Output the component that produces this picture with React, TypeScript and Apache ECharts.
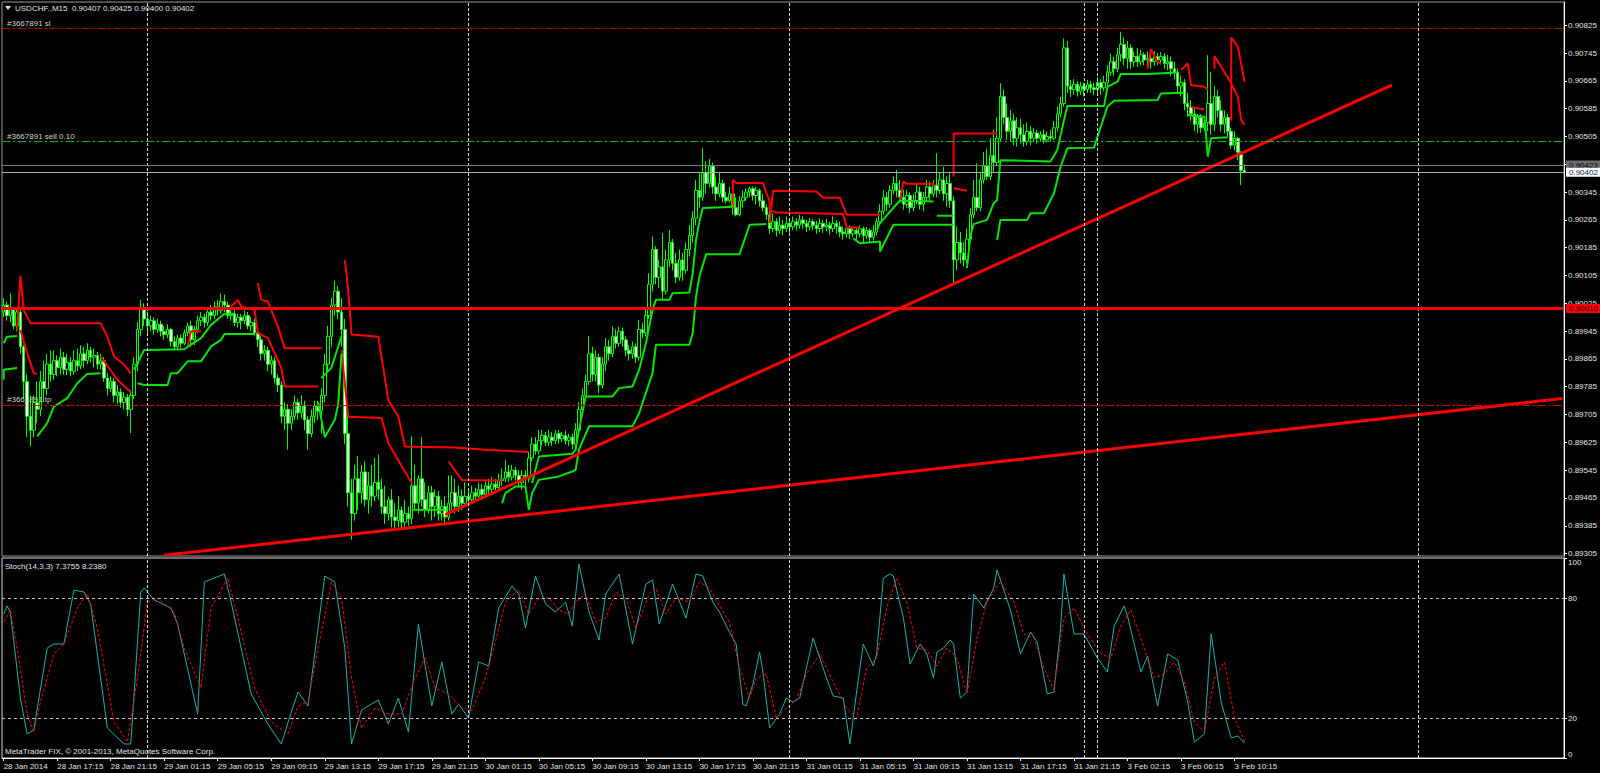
import React, { useEffect, useRef } from "react";
import * as echarts from "echarts";

const FONT = '"Liberation Sans", Arial, sans-serif';
const BAR_SLOTS = 467;
const LABEL_STEP = 16;
const PRICE_MIN = 0.89298;
const PRICE_MAX = 0.90892;

const headerText = "USDCHF.,M15  0.90407 0.90425 0.90400 0.90402";
const stochHeader = "Stoch(14,3,3) 7.3755 8.2380";
const copyrightText = "MetaTrader FIX, \u00a9 2001-2013, MetaQuotes Software Corp.";

const timeLabels = [
  "28 Jan 2014", "28 Jan 17:15", "28 Jan 21:15", "29 Jan 01:15", "29 Jan 05:15", "29 Jan 09:15",
  "29 Jan 13:15", "29 Jan 17:15", "29 Jan 21:15", "30 Jan 01:15", "30 Jan 05:15", "30 Jan 09:15",
  "30 Jan 13:15", "30 Jan 17:15", "30 Jan 21:15", "31 Jan 01:15", "31 Jan 05:15", "31 Jan 09:15",
  "31 Jan 13:15", "31 Jan 17:15", "31 Jan 21:15", "3 Feb 02:15", "3 Feb 06:15", "3 Feb 10:15",
];

const priceTicks = [
  0.89305, 0.89385, 0.89465, 0.89545, 0.89625, 0.89705, 0.89785, 0.89865, 0.89945, 0.90025,
  0.90105, 0.90185, 0.90265, 0.90345, 0.90425, 0.90505, 0.90585, 0.90665, 0.90745, 0.90825,
];
const stochTicks = [0, 20, 80, 100];
const stochLevels = [20, 80];
const daySeparators = [43, 139, 235, 323, 327, 423];

// order levels
const slPrice = 0.90817;
const sellPrice = 0.9049;
const tpPrice = 0.89733;
const askPrice = 0.90423;
const bidPrice = 0.90402;
const supportPrice = 0.9001;

// candles: [open, close, low, high] in points above 0.89000
const candles = [
  [1000,1020,985,1040],[1020,990,975,1030],[990,1010,970,1054],[1010,960,950,1015],[960,1000,945,1010],
  [1000,900,880,1005],[900,800,750,905],[800,700,640,820],[700,660,613,760],[660,740,640,760],
  [740,720,680,800],[720,800,700,830],[800,780,740,860],[780,850,760,880],[850,820,800,890],
  [820,860,805,890],[860,840,815,875],[840,870,820,895],[870,835,820,885],[835,855,818,880],
  [855,830,815,870],[830,860,820,890],[860,845,830,895],[845,880,835,905],[880,860,840,900],
  [860,890,850,910],[890,870,855,900],[870,875,840,895],[875,850,835,885],[850,860,835,880],
  [860,810,800,870],[810,780,760,825],[780,800,770,815],[800,760,740,810],[760,770,735,790],
  [770,740,725,780],[740,755,720,770],[755,720,700,765],[720,760,652,775],[760,850,750,870],
  [850,950,830,970],[950,1010,930,1035],[1010,980,960,1025],[980,960,940,1000],[960,975,945,990],
  [975,950,935,985],[950,965,940,980],[965,945,930,975],[945,935,920,960],[935,950,925,965],
  [950,915,900,955],[915,900,891,930],[900,925,895,935],[925,910,895,935],[910,940,905,950],
  [940,960,930,970],[960,920,900,975],[920,950,905,960],[950,975,940,990],[975,985,960,1000],
  [985,970,955,995],[970,1000,960,1010],[1000,990,975,1020],[990,1015,980,1030],[1015,1005,990,1035],
  [1005,1030,995,1054],[1030,1020,1000,1050],[1020,990,980,1030],[990,995,975,1010],[995,970,960,1005],
  [970,985,955,995],[985,975,950,995],[975,990,965,1005],[990,960,950,1000],[960,970,945,985],
  [970,940,930,980],[940,920,900,950],[920,880,860,930],[880,890,860,905],[890,850,830,900],
  [850,860,820,875],[860,810,795,870],[810,790,770,820],[790,700,680,800],[700,720,661,740],
  [720,680,604,735],[680,700,660,720],[700,740,690,760],[740,710,690,750],[710,730,695,760],
  [730,690,660,745],[690,650,604,700],[650,700,640,720],[700,730,680,745],[730,715,690,745],
  [715,760,650,780],[760,850,740,880],[850,930,830,960],[930,1020,900,1040],[1020,1060,990,1090],
  [1060,1000,980,1075],[1000,950,900,1040],[950,650,620,980],[650,480,440,700],[480,420,345,520],
  [420,520,400,560],[520,480,430,585],[480,540,450,560],[540,460,440,570],[460,500,420,540],
  [500,470,440,560],[470,510,455,580],[510,490,460,590],[490,440,420,520],[440,420,390,500],
  [420,460,400,470],[460,410,380,490],[410,400,375,450],[400,430,380,470],[430,395,374,440],
  [395,420,380,460],[420,405,385,440],[405,500,390,642],[500,450,430,560],[450,520,420,530],
  [520,460,440,640],[460,430,410,510],[430,480,420,500],[480,440,400,500],[440,470,410,490],
  [470,420,400,485],[420,440,400,460],[440,410,385,470],[410,450,400,530],[450,480,430,530],
  [480,440,420,520],[440,470,425,500],[470,450,430,490],[450,470,440,510],[470,460,441,490],
  [460,480,450,500],[480,470,455,495],[470,490,460,510],[490,475,460,505],[475,500,465,515],
  [500,490,475,520],[490,505,480,525],[505,495,480,520],[495,515,485,535],[515,520,500,550],
  [520,540,510,575],[540,525,510,560],[525,545,515,560],[545,530,515,555],[530,510,495,545],
  [510,530,489,545],[530,520,500,545],[520,580,510,600],[580,620,570,640],[620,600,590,640],
  [600,630,590,661],[630,645,615,660],[645,625,613,655],[625,640,615,661],[640,630,615,655],
  [630,650,620,660],[650,635,620,661],[635,645,625,655],[645,630,618,660],[630,640,615,650],
  [640,620,605,650],[620,660,610,680],[660,720,650,740],[720,760,700,780],[760,800,750,820],
  [800,880,790,930],[880,820,800,900],[820,870,800,890],[870,790,767,880],[790,850,780,870],
  [850,900,830,925],[900,880,860,920],[880,930,870,958],[930,910,895,950],[910,945,900,958],
  [945,920,900,955],[920,890,872,930],[890,880,860,905],[880,900,865,915],[900,870,853,910],
  [870,950,860,977],[950,940,925,970],[940,990,930,1010],[990,1080,980,1112],[1080,1180,1060,1217],
  [1180,1100,1080,1190],[1100,1130,1070,1150],[1130,1060,1035,1227],[1060,1150,1050,1180],[1150,1200,1130,1236],
  [1200,1140,1120,1210],[1140,1100,1083,1170],[1100,1150,1090,1180],[1150,1120,1090,1170],[1120,1180,1110,1200],
  [1180,1220,1160,1250],[1220,1270,1200,1290],[1270,1350,1250,1380],[1350,1330,1300,1400],[1330,1400,1320,1471],
  [1400,1370,1340,1433],[1370,1420,1360,1440],[1420,1360,1340,1430],[1360,1340,1320,1390],[1340,1370,1330,1400],
  [1370,1330,1315,1380],[1330,1320,1313,1345],[1320,1340,1315,1360],[1340,1300,1280,1350],[1300,1280,1275,1330],
  [1280,1320,1275,1335],[1320,1330,1300,1350],[1330,1345,1320,1356],[1345,1355,1330,1361],[1355,1335,1320,1361],
  [1335,1350,1310,1360],[1350,1320,1303,1355],[1320,1300,1290,1340],[1300,1280,1265,1310],[1280,1240,1225,1290],
  [1240,1260,1230,1284],[1260,1235,1217,1270],[1235,1250,1225,1275],[1250,1240,1220,1265],[1240,1255,1230,1275],
  [1255,1245,1225,1270],[1245,1260,1235,1275],[1260,1250,1235,1270],[1250,1265,1240,1280],[1265,1255,1240,1275],
  [1255,1245,1230,1265],[1245,1260,1235,1270],[1260,1250,1235,1268],[1250,1240,1225,1262],[1240,1255,1230,1270],
  [1255,1245,1228,1265],[1245,1250,1232,1268],[1250,1240,1222,1260],[1240,1255,1230,1275],[1255,1245,1225,1265],
  [1245,1230,1215,1260],[1230,1225,1208,1245],[1225,1240,1215,1255],[1240,1225,1210,1250],[1225,1235,1215,1246],
  [1235,1225,1208,1245],[1225,1240,1215,1250],[1240,1220,1198,1246],[1220,1235,1210,1245],[1235,1215,1200,1240],
  [1215,1230,1205,1250],[1230,1260,1220,1270],[1260,1290,1250,1310],[1290,1330,1280,1351],[1330,1310,1290,1345],
  [1310,1350,1300,1365],[1350,1370,1340,1390],[1370,1350,1330,1409],[1350,1330,1320,1380],[1330,1310,1294,1351],
  [1310,1335,1300,1350],[1335,1300,1284,1345],[1300,1320,1290,1340],[1320,1345,1310,1370],[1345,1310,1295,1360],
  [1310,1330,1290,1345],[1330,1360,1320,1380],[1360,1340,1320,1375],[1340,1365,1330,1380],[1365,1350,1330,1457],
  [1350,1380,1340,1400],[1380,1340,1320,1418],[1340,1370,1303,1390],[1370,1320,1300,1400],[1320,1150,1083,1332],
  [1150,1200,1120,1246],[1200,1170,1140,1230],[1170,1150,1131,1200],[1150,1210,1140,1240],[1210,1280,1200,1300],
  [1280,1330,1270,1380],[1330,1300,1290,1428],[1300,1380,1290,1400],[1380,1420,1370,1460],[1420,1390,1380,1470],
  [1390,1450,1380,1500],[1450,1430,1400,1524],[1430,1500,1420,1560],[1500,1620,1490,1658],[1620,1560,1540,1640],
  [1560,1520,1495,1600],[1520,1550,1490,1581],[1550,1500,1480,1570],[1500,1530,1476,1560],[1530,1510,1485,1555],
  [1510,1490,1476,1540],[1490,1520,1480,1545],[1520,1500,1480,1535],[1500,1515,1490,1530],[1515,1500,1485,1524],
  [1500,1510,1490,1520],[1510,1495,1485,1525],[1495,1505,1488,1520],[1505,1500,1490,1524],[1500,1530,1495,1550],
  [1530,1570,1520,1591],[1570,1600,1560,1620],[1600,1760,1590,1787],[1760,1650,1630,1780],[1650,1640,1620,1667],
  [1640,1655,1625,1670],[1655,1635,1620,1665],[1635,1650,1625,1662],[1650,1640,1620,1660],[1640,1655,1630,1668],
  [1655,1645,1630,1665],[1645,1640,1625,1660],[1640,1660,1630,1675],[1660,1645,1625,1670],[1645,1660,1635,1680],
  [1660,1690,1650,1710],[1690,1720,1680,1744],[1720,1700,1680,1735],[1700,1740,1690,1760],[1740,1770,1720,1806],
  [1770,1730,1710,1790],[1730,1760,1700,1780],[1760,1720,1700,1770],[1720,1735,1706,1750],[1735,1720,1705,1760],
  [1720,1740,1710,1755],[1740,1725,1710,1748],[1725,1730,1706,1750],[1730,1720,1700,1744],[1720,1735,1708,1750],
  [1735,1725,1710,1745],[1725,1735,1712,1748],[1735,1715,1700,1745],[1715,1720,1695,1740],[1720,1700,1680,1735],
  [1700,1690,1670,1720],[1690,1650,1630,1700],[1650,1660,1620,1680],[1660,1600,1580,1670],[1600,1590,1562,1630],
  [1590,1570,1550,1610],[1570,1540,1520,1585],[1540,1560,1514,1570],[1560,1530,1515,1570],[1530,1545,1520,1560],
  [1545,1600,1520,1739],[1600,1540,1510,1690],[1540,1620,1520,1650],[1620,1580,1560,1640],[1580,1540,1520,1610],
  [1540,1560,1514,1580],[1560,1520,1505,1570],[1520,1480,1470,1530],[1480,1500,1465,1520],[1500,1460,1437,1504],
  [1460,1407,1365,1462],[1407,1402,1400,1425],
];

// indicator lines: [bar index, points above 0.89000]
const redSegments = [
  [[4,949],[5,1104],[6,1006],[8,968],[29,968],[31,929],[33,872],[36,848],[38,824]],
  [[5,949],[7,882],[9,824],[10,822]],
  [[29,872],[34,805],[38,770]],
  [[55,901],[56,945],[59,945]],
  [[68,1016],[70,1035],[71,1016],[75,1006],[76,939],[79,925],[83,839],[84,786],[94,786]],
  [[76,1083],[77,1035],[79,1030],[82,958],[84,896],[95,896]],
  [[102,1150],[103,1064],[104,935],[112,929],[115,747],[118,699],[120,613],[135,610],[145,603],[157,597]],
  [[101,891],[103,699],[113,695],[115,623],[119,556],[122,508]],
  [[133,570],[137,517],[149,515]],
  [[218,1299],[218,1380],[219,1371],[227,1371],[229,1318],[229,1294]],
  [[229,1294],[231,1286],[251,1282],[252,1243],[256,1243]],
  [[229,1256],[230,1349],[243,1347],[245,1329],[250,1329],[252,1280],[262,1280]],
  [[268,1323],[269,1375],[270,1369],[278,1369],[278,1361]],
  [[284,1389],[284,1514],[297,1514]],
  [[284,1356],[288,1349]],
  [[342,1700],[343,1756],[345,1720],[346,1715]],
  [[352,1696],[354,1715],[355,1653],[359,1648],[360,1640]],
  [[355,1590],[359,1583]],
  [[362,1700],[362,1736],[364,1706],[367,1658],[369,1619],[370,1552],[371,1538]],
  [[367,1550],[367,1790],[369,1763],[371,1663]],
];

const greenSegments = [
  [[0,910],[1,929],[4,931]],
  [[0,805],[0,834],[4,839]],
  [[10,642],[13,680],[15,728],[19,752],[22,795],[25,822],[29,824]],
  [[40,795],[42,790],[49,790],[50,824],[52,824],[55,858],[59,858],[62,901],[65,920],[66,937],[75,937]],
  [[39,834],[42,891],[54,893],[56,906],[59,925],[62,963],[65,987],[66,995],[69,995]],
  [[94,740],[96,640],[99,690],[100,733],[101,880]],
  [[95,810],[98,840],[100,900],[101,930]],
  [[122,431],[132,431]],
  [[149,450],[150,479],[153,498],[156,498],[157,431],[158,479],[160,517],[166,527],[170,541],[171,546],[172,604],[175,671],[188,671],[190,709],[192,767],[194,824],[195,906],[205,906],[206,939],[207,1045],[208,1102],[210,1166],[220,1166],[223,1251],[228,1253]],
  [[158,508],[160,584],[170,592],[171,604],[172,661],[174,757],[182,757],[184,781],[188,786],[190,834],[192,910],[194,1006],[195,1035],[199,1035],[200,1054],[205,1056],[206,1112],[207,1208],[208,1260],[209,1299],[217,1302],[218,1307]],
  [[254,1212],[256,1198],[262,1203],[262,1174],[263,1193],[266,1251],[284,1251]],
  [[261,1236],[262,1256],[266,1300],[268,1321],[278,1318]],
  [[279,1277],[284,1277]],
  [[288,1126],[289,1217],[290,1253],[294,1265],[296,1313],[297,1322],[298,1437],[313,1433],[315,1466],[317,1552],[318,1593],[329,1593],[330,1648],[333,1663],[334,1685],[342,1685],[351,1689]],
  [[297,1207],[298,1265],[306,1265],[307,1284],[311,1284],[314,1341],[316,1418],[318,1471],[326,1473],[328,1533],[330,1591],[332,1608],[345,1610],[346,1629],[353,1631]],
  [[354,1567],[359,1562],[360,1447],[361,1500],[366,1503]],
];

const steepTrend = [[132, 417], [415, 1653]];
const shallowTrend = [[48, 300], [466, 751]];

const stochK = [
  [0,72],[1,76],[2,73],[5,30],[7,12],[9,14],[13,55],[15,57],[18,57],[21,84],[24,83],[26,77],[31,15],[36,7],[38,7],
  [41,83],[42,85],[45,79],[50,75],[52,67],[58,22],[60,88],[66,92],[68,78],[74,32],[79,17],[83,7],[86,23],[88,33],
  [91,26],[96,91],[99,88],[102,55],[104,7],[107,24],[112,29],[115,17],[118,30],[121,13],[124,67],[128,26],[131,48],
  [134,22],[136,27],[139,20],[142,48],[145,46],[148,75],[152,86],[154,82],[156,65],[159,91],[162,77],[165,73],
  [168,78],[170,66],[172,97],[175,73],[178,59],[180,82],[184,92],[188,57],[192,87],[194,89],[196,67],[200,87],
  [204,70],[207,92],[209,91],[212,78],[214,73],[217,63],[219,57],[221,27],[222,26],[224,37],[226,53],[227,43],
  [229,15],[232,22],[234,30],[236,28],[238,30],[242,60],[246,40],[248,31],[251,30],[253,7],[255,33],[257,57],
  [260,46],[261,52],[263,90],[265,92],[266,91],[269,70],[271,47],[274,57],[276,52],[278,40],[279,53],[281,55],
  [283,59],[284,57],[286,30],[288,33],[290,82],[293,75],[296,85],[297,94],[301,74],[304,52],[307,63],[309,58],
  [312,32],[314,33],[316,65],[317,92],[320,62],[323,62],[327,50],[330,43],[332,66],[335,76],[336,71],[340,43],
  [342,51],[345,26],[348,52],[351,49],[354,28],[356,8],[359,12],[361,62],[364,28],[367,10],[369,11],[371,7.4],
];

const stochD = [
  [0,68],[2,74],[4,55],[7,22],[9,13],[11,28],[15,52],[18,57],[22,75],[25,82],[28,65],[33,18],[37,8],[40,40],
  [43,78],[46,80],[51,73],[54,55],[59,35],[62,75],[67,90],[70,70],[75,35],[80,18],[85,12],[88,26],[91,28],
  [94,55],[98,88],[101,80],[104,40],[107,15],[111,25],[115,22],[119,22],[123,40],[126,50],[129,35],[133,32],
  [137,25],[140,24],[144,40],[147,58],[150,78],[154,84],[157,72],[160,80],[163,80],[166,74],[169,72],[171,78],
  [174,82],[177,68],[180,70],[183,83],[186,80],[189,65],[193,82],[195,85],[198,72],[201,80],[205,78],[208,88],
  [211,85],[214,76],[217,68],[220,45],[223,30],[225,40],[228,42],[231,20],[234,25],[237,29],[240,42],[244,52],
  [248,38],[252,25],[255,20],[258,45],[261,50],[264,75],[267,90],[270,78],[273,55],[276,54],[279,46],[282,55],
  [285,50],[288,32],[291,60],[294,78],[298,88],[302,78],[305,62],[308,60],[311,45],[314,34],[317,70],[320,75],
  [324,62],[328,52],[331,50],[334,66],[337,74],[341,55],[344,40],[347,42],[350,48],[353,38],[356,18],[359,13],
  [362,40],[365,48],[368,20],[371,8.2],
];

const toPrice = (v: number) => +(0.89 + v / 100000).toFixed(5);
const toPoints = (seg: number[][]) => seg.map(([i, v]) => [i, toPrice(v)]);

const LABEL_COLOR = "#e4e4e4";

function buildOption() {
  const slots = Array.from({ length: BAR_SLOTS }, (_, i) => String(i));
  const showTime = (idx: number) => idx % LABEL_STEP === 0 && idx / LABEL_STEP < timeLabels.length;

  const indicatorSeries: any[] = [];
  redSegments.forEach((seg) =>
    indicatorSeries.push({
      type: "line", xAxisIndex: 0, yAxisIndex: 0, data: toPoints(seg), symbol: "none", silent: true,
      lineStyle: { color: "#ff0000", width: 2 },
    })
  );
  greenSegments.forEach((seg) =>
    indicatorSeries.push({
      type: "line", xAxisIndex: 0, yAxisIndex: 0, data: toPoints(seg), symbol: "none", silent: true,
      lineStyle: { color: "#00e600", width: 2 },
    })
  );

  const orderLabel = (text: string) => ({
    show: true, position: "insideStartTop", formatter: text, color: "#d0d0d0", fontSize: 8,
    fontFamily: FONT, distance: [5, 1],
  });
  const boxLabel = (text: string, bg: string, fg: string) => ({
    show: true, position: "end", formatter: text, color: fg, backgroundColor: bg, fontSize: 8,
    fontFamily: FONT, padding: [1, 3, 0, 3], distance: 2,
  });

  const separatorLines = daySeparators.map((x) => ({
    xAxis: x, lineStyle: { color: "#d8d8d8", type: [3, 2], width: 1 }, label: { show: false },
  }));

  const levelLines = [
    { yAxis: slPrice, lineStyle: { color: "#c00000", type: [8, 3, 2, 3], width: 1 }, label: orderLabel("#3667891 sl") },
    { yAxis: sellPrice, lineStyle: { color: "#00c000", type: [8, 3, 2, 3], width: 1 }, label: orderLabel("#3667891 sell 0.10") },
    { yAxis: tpPrice, lineStyle: { color: "#d00000", type: [8, 3, 2, 3], width: 1 }, label: orderLabel("#3667891 tp") },
    { yAxis: askPrice, lineStyle: { color: "#7a7a7a", type: "solid", width: 1 }, label: boxLabel(askPrice.toFixed(5), "#6e6e6e", "#000000") },
    { yAxis: bidPrice, lineStyle: { color: "#a8a8a8", type: "solid", width: 1 }, label: boxLabel(bidPrice.toFixed(5), "#ffffff", "#10103a") },
    { yAxis: supportPrice, lineStyle: { color: "#ff0000", type: "solid", width: 3 }, label: boxLabel(supportPrice.toFixed(5), "#ff0000", "#200000") },
  ];

  return {
    animation: false,
    backgroundColor: "#000000",
    textStyle: { fontFamily: FONT },
    grid: [
      { left: 2, right: 36, top: 2, height: 554, show: true, borderColor: "#9c9c9c", borderWidth: 1, backgroundColor: "#000" },
      { left: 2, right: 36, top: 558, height: 200, show: true, borderColor: "#d8d8d8", borderWidth: 1, backgroundColor: "#000" },
    ],
    xAxis: [
      {
        type: "category", gridIndex: 0, data: slots, boundaryGap: true,
        axisLine: { show: false }, axisTick: { show: false }, axisLabel: { show: false }, splitLine: { show: false },
      },
      {
        type: "category", gridIndex: 1, data: slots, boundaryGap: true,
        axisLine: { show: true, lineStyle: { color: "#ffffff", width: 1 } },
        axisTick: { show: true, alignWithLabel: true, interval: (idx: number) => showTime(idx), length: 3, lineStyle: { color: "#ffffff" } },
        axisLabel: {
          interval: (idx: number) => showTime(idx),
          formatter: (v: string) => timeLabels[Number(v) / LABEL_STEP] ?? "",
          color: LABEL_COLOR, fontSize: 8, fontFamily: FONT, align: "left", margin: 4,
        },
        splitLine: { show: false },
      },
    ],
    yAxis: [
      {
        type: "value", gridIndex: 0, position: "right", min: PRICE_MIN, max: PRICE_MAX,
        axisLine: { show: true, lineStyle: { color: "#ffffff", width: 1 } },
        axisTick: { show: true, length: 3, customValues: priceTicks, lineStyle: { color: "#ffffff" } },
        axisLabel: {
          customValues: priceTicks, formatter: (v: number) => v.toFixed(5),
          color: LABEL_COLOR, fontSize: 8, fontFamily: FONT, margin: 4,
        },
        splitLine: { show: false },
      },
      {
        type: "value", gridIndex: 1, position: "right", min: 0, max: 100,
        axisLine: { show: true, lineStyle: { color: "#ffffff", width: 1 } },
        axisTick: { show: true, length: 3, customValues: stochTicks, lineStyle: { color: "#ffffff" } },
        axisLabel: {
          customValues: stochTicks, color: LABEL_COLOR, fontSize: 8, fontFamily: FONT, margin: 4,
          verticalAlignMinLabel: "bottom", verticalAlignMaxLabel: "top",
        },
        splitLine: { show: false },
      },
    ],
    graphic: [
      { type: "polygon", shape: { points: [[5, 6], [11, 6], [8, 10]] }, style: { fill: "#e0e0e0" } },
      { type: "text", left: 15, top: 4, style: { text: headerText, fill: LABEL_COLOR, font: `8px ${FONT}` } },
      { type: "text", left: 5, top: 562, style: { text: stochHeader, fill: LABEL_COLOR, font: `8px ${FONT}` } },
      { type: "text", left: 5, top: 747, style: { text: copyrightText, fill: LABEL_COLOR, font: `8px ${FONT}` } },
    ],
    series: [
      {
        type: "candlestick", xAxisIndex: 0, yAxisIndex: 0, silent: true, clip: false,
        data: candles.map((c) => c.map(toPrice)),
        barWidth: 3,
        itemStyle: { color: "#000000", color0: "#ffffff", borderColor: "#00ff00", borderColor0: "#00ff00", borderWidth: 1 },
        markLine: { symbol: ["none", "none"], silent: true, animation: false, data: separatorLines },
      },
      ...indicatorSeries,
      {
        type: "line", xAxisIndex: 0, yAxisIndex: 0, data: toPoints(steepTrend), symbol: "none", silent: true,
        lineStyle: { color: "#ff0000", width: 3 },
      },
      {
        type: "line", xAxisIndex: 0, yAxisIndex: 0, data: toPoints(shallowTrend), symbol: "none", silent: true,
        clip: false,
        lineStyle: { color: "#ff0000", width: 3 },
        markLine: { symbol: ["none", "none"], silent: true, animation: false, precision: 5, data: levelLines },
      },
      {
        type: "line", xAxisIndex: 1, yAxisIndex: 1, data: stochK, symbol: "none", silent: true,
        lineStyle: { color: "#20b2aa", width: 1 },
        markLine: {
          symbol: ["none", "none"], silent: true, animation: false,
          data: [
            ...stochLevels.map((lv) => ({ yAxis: lv, lineStyle: { color: "#c0c0c0", type: [3, 3], width: 1 }, label: { show: false } })),
            ...separatorLines,
          ],
        },
      },
      {
        type: "line", xAxisIndex: 1, yAxisIndex: 1, data: stochD, symbol: "none", silent: true,
        lineStyle: { color: "#ff0000", width: 1, type: [3, 2] },
      },
    ],
  };
}

export default function App() {
  const ref = useRef<HTMLDivElement>(null);
  useEffect(() => {
    if (!ref.current) return;
    const chart = echarts.init(ref.current, undefined, { renderer: "svg" });
    chart.setOption(buildOption() as any);
    return () => chart.dispose();
  }, []);
  return (
    <div
      ref={ref}
      style={{ position: "fixed", left: 0, top: 0, width: 1600, height: 773, background: "#000" }}
    />
  );
}
